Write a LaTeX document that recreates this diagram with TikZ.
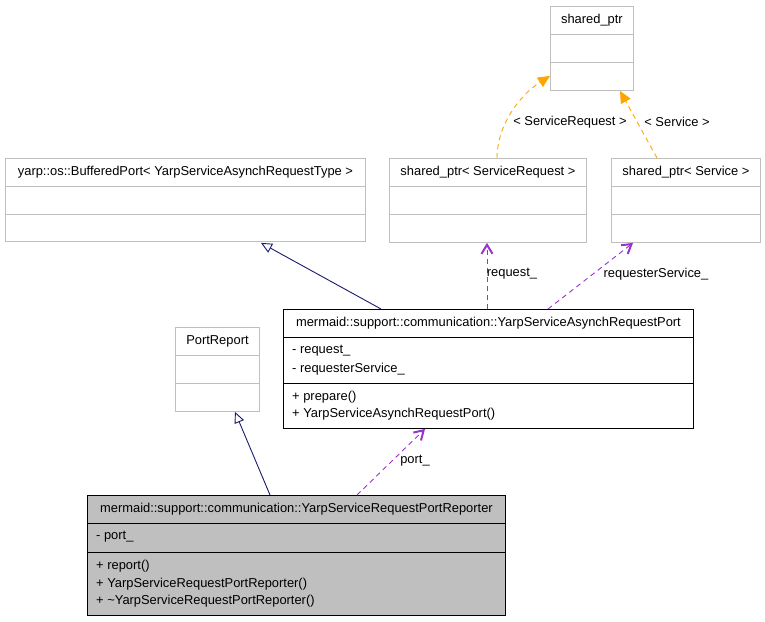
\documentclass[tikz,border=0pt]{standalone}
\usepackage{fontspec}
\setmainfont{Liberation Sans}
\usetikzlibrary{arrows.meta,calc}
\definecolor{boxline}{HTML}{BFBFBF}
\definecolor{repfill}{HTML}{BFBFBF}
\definecolor{inhcol}{HTML}{191970}
\definecolor{usecol}{HTML}{9A32CD}
\definecolor{tplcol}{HTML}{FFA500}
\begin{document}
\begin{tikzpicture}[x=1pt,y=-1pt,
  font=\fontsize{12.9}{15}\selectfont,
  cls/.style={draw=boxline, line width=0.9pt, fill=white, anchor=north west, inner sep=0pt},
  clsmain/.style={draw=black, line width=0.9pt, fill=white, anchor=north west, inner sep=0pt},
  clsrep/.style={draw=black, line width=0.9pt, fill=repfill, anchor=north west, inner sep=0pt},
  sepg/.style={draw=boxline, line width=0.9pt},
  sepb/.style={draw=black, line width=0.9pt},
  ttl/.style={inner sep=0pt, anchor=center},
  mem/.style={inner sep=0pt, anchor=west},
  lbl/.style={inner sep=0pt, anchor=center},
  inh/.style={draw=inhcol, line width=0.9pt, -{Triangle[open, length=11pt, width=10pt]}},
  use/.style={draw=usecol, line width=0.9pt, dash pattern=on 5pt off 4pt, -{Straight Barb[length=9pt, width=11pt, line width=2pt]}},
  tpl/.style={draw=tplcol, line width=0.9pt, dash pattern=on 5pt off 4pt, -{Triangle[length=12pt, width=11pt]}}
]
\useasboundingbox (0,0) rectangle (765,621);

% shared_ptr
\node[cls, minimum width=83pt, minimum height=84pt] (sp) at (550,6) {};
\draw[sepg] ($(sp.north west)+(0,28)$) -- ($(sp.north east)+(0,28)$);
\draw[sepg] ($(sp.north west)+(0,56)$) -- ($(sp.north east)+(0,56)$);
\node[ttl] (spt) at ($(sp.north)+(0,14)$) {shared\_ptr};

% shared_ptr< Service >
\node[cls, minimum width=149pt, minimum height=84pt] (sps) at (611,158) {};
\draw[sepg] ($(sps.north west)+(0,28)$) -- ($(sps.north east)+(0,28)$);
\draw[sepg] ($(sps.north west)+(0,56)$) -- ($(sps.north east)+(0,56)$);
\node[ttl] (spst) at ($(sps.north)+(0,14)$) {shared\_ptr< Service >};

% shared_ptr< ServiceRequest >
\node[cls, minimum width=197pt, minimum height=84pt] (spsr) at (389,158) {};
\draw[sepg] ($(spsr.north west)+(0,28)$) -- ($(spsr.north east)+(0,28)$);
\draw[sepg] ($(spsr.north west)+(0,56)$) -- ($(spsr.north east)+(0,56)$);
\node[ttl] (spsrt) at ($(spsr.north)+(0,14)$) {shared\_ptr< ServiceRequest >};

% BufferedPort
\node[cls, minimum width=360pt, minimum height=83pt] (bp) at (5,158) {};
\draw[sepg] ($(bp.north west)+(0,28)$) -- ($(bp.north east)+(0,28)$);
\draw[sepg] ($(bp.north west)+(0,56)$) -- ($(bp.north east)+(0,56)$);
\node[ttl] (bpt) at ($(bp.north)+(0,14)$) {yarp::os::BufferedPort< YarpServiceAsynchRequestType >};

% PortReport
\node[cls, minimum width=84pt, minimum height=84pt] (pr) at (175,327) {};
\draw[sepg] ($(pr.north west)+(0,28)$) -- ($(pr.north east)+(0,28)$);
\draw[sepg] ($(pr.north west)+(0,56)$) -- ($(pr.north east)+(0,56)$);
\node[ttl] (prt) at ($(pr.north)+(0,14)$) {PortReport};

% YarpServiceAsynchRequestPort
\node[clsmain, minimum width=410pt, minimum height=119pt] (asp) at (283,309) {};
\draw[sepb] ($(asp.north west)+(0,28)$) -- ($(asp.north east)+(0,28)$);
\draw[sepb] ($(asp.north west)+(0,74)$) -- ($(asp.north east)+(0,74)$);
\node[ttl] (aspt) at ($(asp.north)+(0,14)$) {mermaid::support::communication::YarpServiceAsynchRequestPort};
\node[mem] (aspa1) at ($(asp.north west)+(9,42)$) {- request\_};
\node[mem] (aspa2) at ($(asp.north west)+(9,60)$) {- requesterService\_};
\node[mem] (aspm1) at ($(asp.north west)+(9,88)$) {+ prepare()};
\node[mem] (aspm2) at ($(asp.north west)+(9,105)$) {+ YarpServiceAsynchRequestPort()};

% YarpServiceRequestPortReporter
\node[clsrep, minimum width=418pt, minimum height=120pt] (rep) at (87,495) {};
\draw[sepb] ($(rep.north west)+(0,28)$) -- ($(rep.north east)+(0,28)$);
\draw[sepb] ($(rep.north west)+(0,57)$) -- ($(rep.north east)+(0,57)$);
\node[ttl] (rept) at ($(rep.north)+(0,14)$) {mermaid::support::communication::YarpServiceRequestPortReporter};
\node[mem] (repa1) at ($(rep.north west)+(9,42)$) {- port\_};
\node[mem] (repm1) at ($(rep.north west)+(9,71)$) {+ report()};
\node[mem] (repm2) at ($(rep.north west)+(9,89)$) {+ YarpServiceRequestPortReporter()};
\node[mem] (repm3) at ($(rep.north west)+(9,106)$) {+ \textasciitilde YarpServiceRequestPortReporter()};

% connectors
\draw[inh] ($(asp.north west)+(98,0)$) -- ($(bp.south west)+(256,1)$);
\draw[inh] ($(rep.north west)+(183,0)$) -- ($(pr.south west)+(60,0)$);
\draw[use] ($(rep.north west)+(270,0)$) -- ($(asp.south west)+(142,0)$);
\draw[use] ($(asp.north west)+(204,0)$) -- ($(spsr.south west)+(98,0)$);
\draw[use] ($(asp.north west)+(265,0)$) -- ($(sps.south west)+(22,0)$);
\draw[tpl] ($(spsr.north west)+(108,0)$) .. controls (497,125) and (520,95) .. ($(sp.south west)+(0,-15)$);
\draw[tpl] ($(sps.north west)+(46,0)$) -- ($(sp.south west)+(70,0)$);

% labels
\node[lbl] (lport) at (415,461) {port\_};
\node[lbl] (lreq) at (512,274) {request\_};
\node[lbl] (lrs) at (656,274) {requesterService\_};
\node[lbl] (lsr) at (570,122) {< ServiceRequest >};
\node[lbl] (ls) at (677,122) {< Service >};
\end{tikzpicture}
\end{document}
